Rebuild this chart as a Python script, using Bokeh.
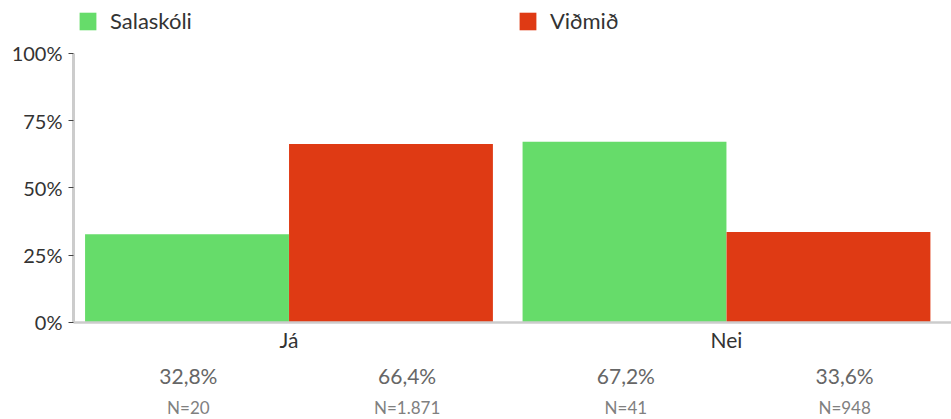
from bokeh.plotting import figure
from bokeh.models import (Range1d, FixedTicker, Legend, LegendItem,
                          ColumnDataSource, PrintfTickFormatter)
from bokeh.core.properties import value
from bokeh.embed import file_html
from bokeh.resources import INLINE

# ---- data ----
categories = ["Já", "Nei"]
series_names = ["Salaskóli", "Viðmið"]
salaskoli_pct = [32.8, 67.2]
vidmid_pct = [66.4, 33.6]
salaskoli_n = [20, 41]
vidmid_n = [1871, 948]
series_colors = ["#66dc6a", "#df3a14"]
y_ticks = [0, 25, 50, 75, 100]

FONT = "Lato"

# view extents (the frame covers the whole figure; axes sit at fixed places)
X_VIEW = (-0.1594, 2.0143)
Y_VIEW = (-36.06, 119.7)
AXIS_X0 = 0.0074

p = figure(width=951, height=419, output_backend="svg", toolbar_location=None,
           x_range=Range1d(*X_VIEW), y_range=Range1d(*Y_VIEW),
           min_border_left=0, min_border_right=0, min_border_top=0,
           min_border_bottom=0)
p.outline_line_color = None
p.xgrid.visible = False
p.ygrid.visible = False
p.background_fill_color = "white"
p.border_fill_color = "white"

bar_off = 0.2331
bar_w = 0.466
values = [salaskoli_pct, vidmid_pct]
counts = [salaskoli_n, vidmid_n]

items = []
for k, (name, vals, col) in enumerate(zip(series_names, values, series_colors)):
    xs = [i + 0.5 + (2 * k - 1) * bar_off for i in range(len(categories))]
    src = ColumnDataSource(dict(x=xs, top=vals))
    r = p.vbar(x="x", top="top", width=bar_w, source=src,
               fill_color=col, line_color=None)
    items.append(LegendItem(label=name, renderers=[r]))

legend = Legend(items=items, orientation="horizontal", location=(77, 385),
                padding=0, margin=0, spacing=325,
                glyph_width=21, glyph_height=22, label_height=22,
                label_standoff=12, border_line_color=None,
                background_fill_alpha=0, label_text_font=FONT,
                label_text_font_size="22px", label_text_color="#333333")
p.add_layout(legend)

# value rows under each bar
label_shift = 0.02
lx, pct_txt, n_txt = [], [], []
for i in range(len(categories)):
    for k in range(len(series_names)):
        lx.append(i + 0.5 + (2 * k - 1) * 0.25 + label_shift)
        pct_txt.append(f"{values[k][i]:.1f}".replace(".", ",") + "%")
        n_txt.append("N=" + f"{counts[k][i]:,}".replace(",", "."))
lsrc = ColumnDataSource(dict(x=lx, y=[0] * len(lx), pct=pct_txt, n=n_txt))
p.text(x="x", y="y", text="pct", source=lsrc, y_offset=53,
       text_align="center", text_baseline="middle", text_font=value(FONT),
       text_font_size="21px", text_color="#666666")
p.text(x="x", y="y", text="n", source=lsrc, y_offset=85,
       text_align="center", text_baseline="middle", text_font=value(FONT),
       text_font_size="17px", text_color="#808080")

# x axis at y = 0
xa = p.xaxis[0]
xa.fixed_location = 0
xa.bounds = (AXIS_X0, X_VIEW[1])
xa.ticker = FixedTicker(ticks=[i + 0.5 for i in range(len(categories))])
xa.major_label_overrides = {i + 0.5: c for i, c in enumerate(categories)}
xa.axis_line_color = "#cccccc"
xa.axis_line_width = 2.5
xa.major_tick_line_color = None
xa.minor_tick_line_color = None
xa.major_tick_out = 0
xa.major_tick_in = 0
xa.major_label_standoff = 5
xa.major_label_text_font = FONT
xa.major_label_text_font_size = "21px"
xa.major_label_text_color = "#333333"

# y axis at the left edge of the bars' area
ya = p.yaxis[0]
ya.fixed_location = AXIS_X0
ya.bounds = (y_ticks[0], y_ticks[-1])
ya.ticker = FixedTicker(ticks=y_ticks)
ya.formatter = PrintfTickFormatter(format="%d%%")
ya.axis_line_color = "#cccccc"
ya.axis_line_width = 3
ya.major_tick_line_color = "#444444"
ya.major_tick_out = 5
ya.major_tick_in = 0
ya.minor_tick_line_color = None
ya.major_label_standoff = 6
ya.major_label_text_font = FONT
ya.major_label_text_font_size = "20px"
ya.major_label_text_color = "#333333"

open("out.html", "w").write(file_html(p, INLINE))
